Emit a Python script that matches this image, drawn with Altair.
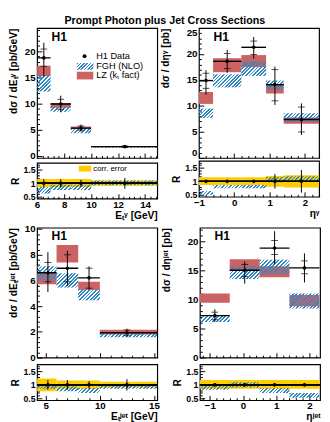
import math
import pandas as pd
import altair as alt

TITLE = "Prompt Photon plus Jet Cross Sections"

# ---------------- Panel A : dσ/dE_T^γ ----------------
A_lo = [6, 7, 8.5, 10]
A_hi = [7, 8.5, 10, 15]
A_x = [6.5, 7.75, 9.25, 12.5]
A_val = [18.7, 9.9, 5.3, 1.75]
A_stat_lo = [17.1, 8.9, 4.9, 1.6]
A_stat_hi = [20.4, 10.8, 5.7, 1.9]
A_tot_lo = [15.2, 8.3, 4.6, 1.5]
A_tot_hi = [21.6, 11.5, 6.0, 2.0]
A_lz_lo = [15.2, 9.2, 5.1, 1.62]
A_lz_hi = [17.2, 10.1, 5.6, 1.82]
A_fgh_lo = [12.3, 8.4, 4.3, 1.55]
A_fgh_hi = [15.4, 9.4, 5.2, 1.75]
A_r_err = [0.15, 0.15, 0.13, 0.2]
A_corr_lo = [0.86, 0.86, 0.86, 0.91]
A_corr_hi = [1.16, 1.16, 1.16, 1.10]
A_rfgh_lo = [0.62, 0.75, 0.75, 0.93]
A_rfgh_hi = [0.86, 0.95, 0.95, 1.10]

# ---------------- Panel B : dσ/dη^γ ----------------
B_lo = [-1.0, -0.6, 0.2, 0.9, 1.4]
B_hi = [-0.6, 0.2, 0.9, 1.4, 2.4]
B_x = [-0.8, -0.2, 0.55, 1.15, 1.9]
B_val = [14.9, 18.6, 21.3, 14.1, 7.4]
B_stat_lo = [13.4, 17.2, 19.9, 11.0, 5.0]
B_stat_hi = [16.3, 20.1, 22.5, 17.0, 9.8]
B_tot_lo = [12.2, 16.4, 19.1, 10.2, 4.4]
B_tot_hi = [16.9, 20.8, 23.3, 17.6, 10.5]
B_lz_lo = [10.4, 16.5, 17.5, 12.4, 6.6]
B_lz_hi = [12.7, 19.2, 19.8, 14.1, 7.8]
B_fgh_lo = [7.7, 13.6, 15.8, 13.1, 6.9]
B_fgh_hi = [9.5, 16.1, 18.6, 14.9, 8.6]
B_r_err = [0.04, 0.04, 0.04, 0.27, 0.42]
B_corr_lo = [0.86, 0.86, 0.86, 0.80, 0.77]
B_corr_hi = [1.15, 1.15, 1.15, 1.20, 1.23]
B_rfgh_lo = [0.50, 0.74, 0.74, 0.97, 1.00]
B_rfgh_hi = [0.64, 0.86, 0.86, 1.15, 1.19]

# ---------------- Panel C : dσ/dE_T^jet ----------------
C_lo = [4.2, 6, 8, 10]
C_hi = [6, 8, 10, 15.3]
C_x = [5.2, 7.0, 9.0, 12.5]
C_val = [6.6, 6.95, 6.2, 1.93]
C_stat_lo = [5.9, 5.9, 5.4, 1.7]
C_stat_hi = [7.4, 8.0, 6.95, 2.15]
C_tot_lo = [5.1, 5.6, 5.3, 1.58]
C_tot_hi = [8.2, 8.3, 7.1, 2.25]
C_lz_lo = [5.7, 7.4, 5.25, 1.8]
C_lz_hi = [6.6, 8.75, 5.9, 2.17]
C_fgh_lo = [6.0, 5.45, 4.45, 1.58]
C_fgh_hi = [7.1, 6.55, 5.3, 1.88]
C_r_err = [0.18, 0.18, 0.14, 0.21]
C_corr_lo = [0.76, 0.86, 0.86, 0.90]
C_corr_hi = [1.24, 1.16, 1.16, 1.12]
C_rfgh_lo = [0.86, 0.76, 0.70, 0.86]
C_rfgh_hi = [1.02, 0.94, 0.88, 1.02]

# ---------------- Panel D : dσ/dη^jet ----------------
D_lo = [-1.3, -0.4, 0.5, 1.4]
D_hi = [-0.4, 0.5, 1.4, 2.3]
D_x = [-0.85, 0.05, 0.95, 1.85]
D_val = [7.2, 15.0, 18.8, 15.4]
D_stat_lo = [6.5, 13.9, 17.7, 14.4]
D_stat_hi = [7.8, 16.0, 20.1, 16.6]
D_tot_lo = [6.1, 12.7, 16.0, 12.9]
D_tot_hi = [8.3, 16.5, 21.7, 17.9]
D_lz_lo = [9.4, 15.0, 13.8, 8.8]
D_lz_hi = [11.0, 16.9, 15.7, 10.75]
D_fgh_lo = [6.1, 13.5, 14.3, 8.45]
D_fgh_hi = [7.2, 15.7, 16.8, 11.0]
D_r_err = [0.06, 0.06, 0.06, 0.06]
D_corr_lo = [0.86, 0.86, 0.86, 0.86]
D_corr_hi = [1.18, 1.18, 1.18, 1.18]
D_rfgh_lo = [0.82, 0.90, 0.70, 0.52]
D_rfgh_hi = [1.00, 1.10, 0.88, 0.70]

LEGEND_LABELS = ["H1 Data", "FGH (NLO)", "LZ (k\u209c fact)"]
CORR_LABEL = "corr. error"
H1_LABEL = "H1"

# ---------------- style ----------------
RED = "#cd6262"
YEL = "#ffcc00"
HATCH = "#2f87c4"
CLEAR = "rgba(255,255,255,0)"
FONT = "Liberation Sans"
W = 124
HM = 134
HR = 37
RDOM = [0.43, 1.76]


def hatch_fill(wpx, hpx, spacing=2.6):
    wpx = max(wpx, 1.0)
    hpx = max(hpx, 1.0)
    r = hpx / wpx
    a = (1 + r) / (1 + r * r)
    n = max(1, int(round((wpx + hpx) / (math.sqrt(2) * spacing))))
    stops = []
    for i in range(n):
        o0, o1, o2 = i / n, (i + 0.5) / n, (i + 1) / n
        stops += [
            {"offset": o0, "color": HATCH},
            {"offset": o1, "color": HATCH},
            {"offset": o1, "color": CLEAR},
            {"offset": o2, "color": CLEAR},
        ]
    return {"gradient": "linear", "x1": 0, "y1": 0, "x2": a, "y2": a * r, "stops": stops}


def tick_vals(dom, step):
    k0 = math.ceil(dom[0] / step - 1e-9)
    k1 = math.floor(dom[1] / step + 1e-9)
    return [round(k * step, 6) for k in range(k0, k1 + 1)]


def major_test(step):
    return f"abs(datum.value / {step} - round(datum.value / {step})) < 0.001"


def tick_size(step):
    return {"expr": f"{major_test(step)} ? -5 : -2.5"}


def label_expr(step):
    return f"{major_test(step)} ? format(datum.value, '~g') : ''"


def panel(lo, hi, xc, val, st_lo, st_hi, tt_lo, tt_hi, lz_lo, lz_hi, fg_lo, fg_hi,
          r_err, c_lo, c_hi, rf_lo, rf_hi, xdom, ydom, xmaj, xmin, ymaj, ymin,
          xtitle, ytitle, tpad, rpad, legend=False, yflush=False):
    df = pd.DataFrame(dict(lo=lo, hi=hi, xc=xc, val=val, st_lo=st_lo, st_hi=st_hi,
                           tt_lo=tt_lo, tt_hi=tt_hi, lz_lo=lz_lo, lz_hi=lz_hi,
                           fg_lo=fg_lo, fg_hi=fg_hi))
    rdf = pd.DataFrame(dict(lo=lo, hi=hi, xc=xc,
                            r_lo=[1 - e for e in r_err], r_hi=[1 + e for e in r_err],
                            c_lo=c_lo, c_hi=c_hi, rf_lo=rf_lo, rf_hi=rf_hi,
                            one=[1] * len(lo)))

    xs = alt.Scale(domain=xdom, nice=False, zero=False)
    ys = alt.Scale(domain=ydom, nice=False, zero=False)
    rs = alt.Scale(domain=RDOM, nice=False, zero=False)
    xv = tick_vals(xdom, xmin)
    yv = tick_vals(ydom, ymin)
    rv = tick_vals(RDOM, 0.1)

    ax_m = alt.Axis(values=xv, labels=False, title=None, domain=False, grid=False,
                    ticks=True, tickSize=tick_size(xmaj), tickColor="black")
    ay_m = alt.Axis(values=yv, labelExpr=label_expr(ymaj), title=ytitle, titleAnchor="end",
                    titleFontSize=10.5, titleFontWeight="bold", titlePadding=tpad,
                    labelFontSize=10, labelFontWeight="bold", labelPadding=7, domain=False,
                    grid=False, tickSize=tick_size(ymaj), tickColor="black",
                    labelColor="black", titleColor="black", labelFlush=yflush)
    ax_r = alt.Axis(values=xv, labelExpr=label_expr(xmaj), title=xtitle, titleAnchor="end",
                    titleAlign="right", titleX=W, titleFontSize=10.5,
                    titleFontWeight="bold", titlePadding=1, labelFontSize=10,
                    labelFontWeight="bold", labelPadding=6, labelFlush=False, domain=False,
                    grid=False, tickSize=tick_size(xmaj), tickColor="black",
                    labelColor="black", titleColor="black")
    ay_r = alt.Axis(values=rv, labelExpr=label_expr(0.5), title="R", titleFontSize=10.5,
                    titleFontWeight="bold", titlePadding=rpad, labelFontSize=9,
                    labelFontWeight="bold", labelPadding=7, domain=False, grid=False,
                    tickSize=tick_size(0.5), tickColor="black",
                    labelColor="black", titleColor="black")

    def XM(f):
        return alt.X(f, type="quantitative", scale=xs, axis=ax_m)

    def YM(f):
        return alt.Y(f, type="quantitative", scale=ys, axis=ay_m)

    def XR(f):
        return alt.X(f, type="quantitative", scale=xs, axis=ax_r)

    def YR(f):
        return alt.Y(f, type="quantitative", scale=rs, axis=ay_r)

    xspan = xdom[1] - xdom[0]
    yspan = ydom[1] - ydom[0]
    rspan = RDOM[1] - RDOM[0]

    base = alt.Chart(df)
    layers = [base.mark_rect(fill=RED, strokeWidth=0, clip=True).encode(
        x=XM("lo"), x2=alt.X2("hi"), y=YM("lz_lo"), y2=alt.Y2("lz_hi"))]
    for i in range(len(lo)):
        wpx = (hi[i] - lo[i]) / xspan * W
        hpx = (fg_hi[i] - fg_lo[i]) / yspan * HM
        layers.append(alt.Chart(df.iloc[[i]]).mark_rect(
            fill=hatch_fill(wpx, hpx), strokeWidth=0, clip=True).encode(
            x=XM("lo"), x2=alt.X2("hi"), y=YM("fg_lo"), y2=alt.Y2("fg_hi")))
    layers += [
        base.mark_rule(color="black", strokeWidth=1.4, clip=True).encode(
            x=XM("lo"), x2=alt.X2("hi"), y=YM("val")),
        base.mark_rule(color="black", strokeWidth=1).encode(
            x=XM("xc"), y=YM("tt_lo"), y2=alt.Y2("tt_hi")),
        base.mark_tick(color="black", orient="horizontal", size=7, thickness=1).encode(
            x=XM("xc"), y=YM("st_lo")),
        base.mark_tick(color="black", orient="horizontal", size=7, thickness=1).encode(
            x=XM("xc"), y=YM("st_hi")),
        base.mark_circle(color="black", size=14, opacity=1).encode(x=XM("xc"), y=YM("val")),
        alt.Chart(pd.DataFrame({"t": [H1_LABEL]})).mark_text(
            align="left", baseline="middle", fontSize=12.5, fontWeight="bold", color="black").encode(
            x=alt.value(15), y=alt.value(9), text="t:N"),
    ]
    if legend:
        ldf = pd.DataFrame({"t": LEGEND_LABELS})
        layers += [
            alt.Chart(ldf.iloc[[0]]).mark_circle(color="black", size=16, opacity=1).encode(
                x=alt.value(49), y=alt.value(29)),
            alt.Chart(ldf.iloc[[1]]).mark_rect(fill=hatch_fill(17, 7), strokeWidth=0).encode(
                x=alt.value(41), x2=alt.value(58), y=alt.value(36), y2=alt.value(43)),
            alt.Chart(ldf.iloc[[2]]).mark_rect(fill=RED, strokeWidth=0).encode(
                x=alt.value(41), x2=alt.value(58), y=alt.value(45), y2=alt.value(53)),
        ]
        for k, yy in enumerate([29, 39.5, 49]):
            layers.append(alt.Chart(ldf.iloc[[k]]).mark_text(
                align="left", baseline="middle", fontSize=9.5, color="black").encode(
                x=alt.value(61), y=alt.value(yy), text="t:N"))
    main = alt.layer(*layers).properties(width=W, height=HM)

    rbase = alt.Chart(rdf)
    rl = [rbase.mark_rect(fill=YEL, strokeWidth=0, clip=True).encode(
        x=XR("lo"), x2=alt.X2("hi"), y=YR("c_lo"), y2=alt.Y2("c_hi"))]
    for i in range(len(lo)):
        wpx = (hi[i] - lo[i]) / xspan * W
        hpx = (rf_hi[i] - rf_lo[i]) / rspan * HR
        rl.append(alt.Chart(rdf.iloc[[i]]).mark_rect(
            fill=hatch_fill(wpx, hpx), strokeWidth=0, clip=True).encode(
            x=XR("lo"), x2=alt.X2("hi"), y=YR("rf_lo"), y2=alt.Y2("rf_hi")))
    rl += [
        rbase.mark_rule(color="black", strokeWidth=1.4).encode(y=YR("one")),
        rbase.mark_rule(color="black", strokeWidth=1).encode(
            x=XR("xc"), y=YR("r_lo"), y2=alt.Y2("r_hi")),
        rbase.mark_circle(color="black", size=14, opacity=1).encode(x=XR("xc"), y=YR("one")),
    ]
    if legend:
        cdf = pd.DataFrame({"t": [CORR_LABEL]})
        rl += [
            alt.Chart(cdf).mark_rect(fill=YEL, strokeWidth=0).encode(
                x=alt.value(43), x2=alt.value(56), y=alt.value(3), y2=alt.value(9)),
            alt.Chart(cdf).mark_text(align="left", baseline="middle", fontSize=8, color="black").encode(
                x=alt.value(58), y=alt.value(6), text="t:N"),
        ]
    ratio = alt.layer(*rl).properties(width=W, height=HR)
    return alt.vconcat(main, ratio, spacing=0)


pA = panel(A_lo, A_hi, A_x, A_val, A_stat_lo, A_stat_hi, A_tot_lo, A_tot_hi, A_lz_lo, A_lz_hi,
           A_fgh_lo, A_fgh_hi, A_r_err, A_corr_lo, A_corr_hi, A_rfgh_lo, A_rfgh_hi,
           [6, 14.9], [-0.4, 24.4], 2, 0.4, 5, 1,
           "E\u209c\u1d5e [GeV]", "d\u03c3 / dE\u209c\u1d5e [pb/GeV]", 6, 3, legend=True)
pB = panel(B_lo, B_hi, B_x, B_val, B_stat_lo, B_stat_hi, B_tot_lo, B_tot_hi, B_lz_lo, B_lz_hi,
           B_fgh_lo, B_fgh_hi, B_r_err, B_corr_lo, B_corr_hi, B_rfgh_lo, B_rfgh_hi,
           [-1, 2.4], [0, 25], 1, 0.2, 5, 1,
           "\u03b7\u1d5e", "d\u03c3 / d\u03b7\u1d5e [pb]", 16, 3, yflush=True)
pC = panel(C_lo, C_hi, C_x, C_val, C_stat_lo, C_stat_hi, C_tot_lo, C_tot_hi, C_lz_lo, C_lz_hi,
           C_fgh_lo, C_fgh_hi, C_r_err, C_corr_lo, C_corr_hi, C_rfgh_lo, C_rfgh_hi,
           [4.2, 15.3], [0, 10.1], 5, 1, 2, 0.4,
           "E\u209c\u02b2\u1d49\u1d57 [GeV]", "d\u03c3 / dE\u209c\u02b2\u1d49\u1d57 [pb/GeV]", 6, 3)
pD = panel(D_lo, D_hi, D_x, D_val, D_stat_lo, D_stat_hi, D_tot_lo, D_tot_hi, D_lz_lo, D_lz_hi,
           D_fgh_lo, D_fgh_hi, D_r_err, D_corr_lo, D_corr_hi, D_rfgh_lo, D_rfgh_hi,
           [-1.3, 2.32], [0, 22.3], 1, 0.2, 5, 1,
           "\u03b7\u02b2\u1d49\u1d57", "d\u03c3 / d\u03b7\u02b2\u1d49\u1d57 [pb]", 16, 3)

row1 = alt.hconcat(pA, pB, spacing=1)
row2 = alt.hconcat(pC, pD, spacing=1)

chart = alt.vconcat(row1, row2, spacing=1).properties(
    title=alt.TitleParams(TITLE, fontSize=11, fontWeight="bold", anchor="middle", offset=1,
                          font=FONT, color="black"),
    padding={"left": 0, "top": 0, "right": 0, "bottom": 0},
).configure(font=FONT).configure_view(stroke="black", strokeWidth=1.2)

chart.save("out.html", embed_options={"renderer": "svg", "actions": False})
